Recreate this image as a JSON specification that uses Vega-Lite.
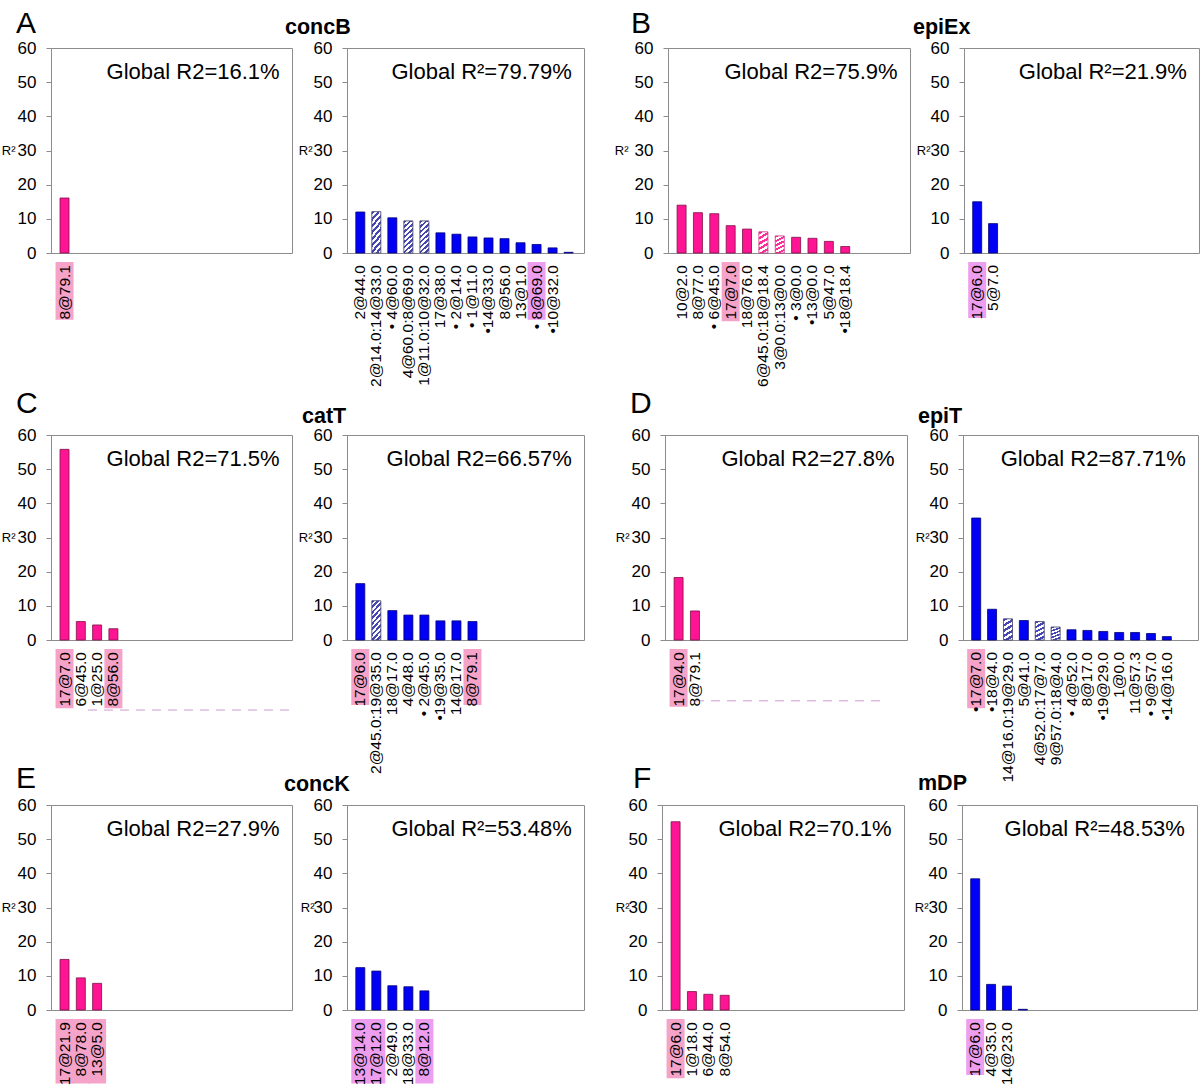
{
  "$schema": "https://vega.github.io/schema/vega-lite/v6.json",
  "background": "white",
  "padding": {"left": 0, "top": 8, "right": 0, "bottom": 0},
  "config": {
    "font": "Liberation Sans",
    "view": {"stroke": "#8c8c8c", "strokeWidth": 1},
    "scale": {"continuousPadding": 0},
    "axisY": {"tickSize": 5, "labelPadding": 10, "labelFontSize": 17, "labelColor": "#000000", "domainColor": "#8c8c8c", "tickColor": "#8c8c8c", "grid": false, "titleAngle": 0, "titleAlign": "right", "titleBaseline": "middle", "titleY": 102.5, "titleFontSize": 13, "titleFontWeight": "normal", "titleColor": "#000000"},
    "title": {"anchor": "start", "frame": "group", "baseline": "alphabetic", "color": "#000000", "font": "Liberation Sans"}
  },
  "datasets": {
    "bars": [
      {"p": "A1", "rank": 1, "label": "8@79.1", "r2": 16.1, "hl": "h1"},
      {"p": "A2", "rank": 1, "label": "2@44.0", "r2": 12.0, "hl": ""},
      {"p": "A2", "rank": 2, "label": "2@14.0:14@33.0", "r2": 12.1, "hl": ""},
      {"p": "A2", "rank": 3, "label": "• 4@60.0", "r2": 10.3, "hl": ""},
      {"p": "A2", "rank": 4, "label": "4@60.0:8@69.0", "r2": 9.4, "hl": ""},
      {"p": "A2", "rank": 5, "label": "1@11.0:10@32.0", "r2": 9.4, "hl": ""},
      {"p": "A2", "rank": 6, "label": "17@38.0", "r2": 5.9, "hl": ""},
      {"p": "A2", "rank": 7, "label": "• 2@14.0", "r2": 5.5, "hl": ""},
      {"p": "A2", "rank": 8, "label": "• 1@11.0", "r2": 4.7, "hl": ""},
      {"p": "A2", "rank": 9, "label": "•14@33.0", "r2": 4.4, "hl": ""},
      {"p": "A2", "rank": 10, "label": "8@56.0", "r2": 4.2, "hl": ""},
      {"p": "A2", "rank": 11, "label": "13@1.0", "r2": 3.0, "hl": ""},
      {"p": "A2", "rank": 12, "label": "• 8@69.0", "r2": 2.5, "hl": "h2"},
      {"p": "A2", "rank": 13, "label": "•10@32.0", "r2": 1.5, "hl": ""},
      {"p": "A2", "rank": 14, "label": "", "r2": 0.2, "hl": ""},
      {"p": "B1", "rank": 1, "label": "10@2.0", "r2": 14.0, "hl": ""},
      {"p": "B1", "rank": 2, "label": "8@77.0", "r2": 11.8, "hl": ""},
      {"p": "B1", "rank": 3, "label": "• 6@45.0", "r2": 11.5, "hl": ""},
      {"p": "B1", "rank": 4, "label": "17@7.0", "r2": 8.0, "hl": "h1"},
      {"p": "B1", "rank": 5, "label": "18@76.0", "r2": 7.0, "hl": ""},
      {"p": "B1", "rank": 6, "label": "6@45.0:18@18.4", "r2": 6.2, "hl": ""},
      {"p": "B1", "rank": 7, "label": "3@0.0:13@0.0", "r2": 5.0, "hl": ""},
      {"p": "B1", "rank": 8, "label": "• 3@0.0", "r2": 4.6, "hl": ""},
      {"p": "B1", "rank": 9, "label": "•13@0.0", "r2": 4.3, "hl": ""},
      {"p": "B1", "rank": 10, "label": "5@47.0", "r2": 3.4, "hl": ""},
      {"p": "B1", "rank": 11, "label": "•18@18.4", "r2": 1.9, "hl": ""},
      {"p": "B2", "rank": 1, "label": "17@6.0", "r2": 15.0, "hl": "h2"},
      {"p": "B2", "rank": 2, "label": "5@7.0", "r2": 8.6, "hl": ""},
      {"p": "C1", "rank": 1, "label": "17@7.0", "r2": 55.8, "hl": "h1"},
      {"p": "C1", "rank": 2, "label": "6@45.0", "r2": 5.4, "hl": ""},
      {"p": "C1", "rank": 3, "label": "1@25.0", "r2": 4.4, "hl": ""},
      {"p": "C1", "rank": 4, "label": "8@56.0", "r2": 3.3, "hl": "h1"},
      {"p": "C2", "rank": 1, "label": "17@6.0", "r2": 16.5, "hl": "h1"},
      {"p": "C2", "rank": 2, "label": "2@45.0:19@35.0", "r2": 11.5, "hl": ""},
      {"p": "C2", "rank": 3, "label": "18@17.0", "r2": 8.6, "hl": ""},
      {"p": "C2", "rank": 4, "label": "4@48.0", "r2": 7.3, "hl": ""},
      {"p": "C2", "rank": 5, "label": "• 2@45.0", "r2": 7.3, "hl": ""},
      {"p": "C2", "rank": 6, "label": "•19@35.0", "r2": 5.6, "hl": ""},
      {"p": "C2", "rank": 7, "label": "14@17.0", "r2": 5.6, "hl": ""},
      {"p": "C2", "rank": 8, "label": "8@79.1", "r2": 5.4, "hl": "h1"},
      {"p": "D1", "rank": 1, "label": "17@4.0", "r2": 18.3, "hl": "h1"},
      {"p": "D1", "rank": 2, "label": "8@79.1", "r2": 8.5, "hl": ""},
      {"p": "D2", "rank": 1, "label": "•17@7.0", "r2": 35.7, "hl": "h1"},
      {"p": "D2", "rank": 2, "label": "•18@4.0", "r2": 9.0, "hl": ""},
      {"p": "D2", "rank": 3, "label": "14@16.0:19@29.0", "r2": 6.2, "hl": ""},
      {"p": "D2", "rank": 4, "label": "5@41.0", "r2": 5.7, "hl": ""},
      {"p": "D2", "rank": 5, "label": "4@52.0:17@7.0", "r2": 5.4, "hl": ""},
      {"p": "D2", "rank": 6, "label": "9@57.0:18@4.0", "r2": 3.8, "hl": ""},
      {"p": "D2", "rank": 7, "label": "• 4@52.0", "r2": 3.0, "hl": ""},
      {"p": "D2", "rank": 8, "label": "8@17.0", "r2": 2.8, "hl": ""},
      {"p": "D2", "rank": 9, "label": "•19@29.0", "r2": 2.5, "hl": ""},
      {"p": "D2", "rank": 10, "label": "1@0.0", "r2": 2.2, "hl": ""},
      {"p": "D2", "rank": 11, "label": "11@57.3", "r2": 2.2, "hl": ""},
      {"p": "D2", "rank": 12, "label": "• 9@57.0", "r2": 1.9, "hl": ""},
      {"p": "D2", "rank": 13, "label": "•14@16.0", "r2": 1.0, "hl": ""},
      {"p": "E1", "rank": 1, "label": "17@21.9", "r2": 14.8, "hl": "h1"},
      {"p": "E1", "rank": 2, "label": "8@78.0", "r2": 9.4, "hl": "h1"},
      {"p": "E1", "rank": 3, "label": "13@5.0", "r2": 7.8, "hl": "h1"},
      {"p": "E2", "rank": 1, "label": "13@14.0", "r2": 12.4, "hl": "h2"},
      {"p": "E2", "rank": 2, "label": "17@12.0", "r2": 11.4, "hl": "h2"},
      {"p": "E2", "rank": 3, "label": "2@49.0", "r2": 7.1, "hl": ""},
      {"p": "E2", "rank": 4, "label": "18@33.0", "r2": 6.8, "hl": ""},
      {"p": "E2", "rank": 5, "label": "8@12.0", "r2": 5.6, "hl": "h2"},
      {"p": "F1", "rank": 1, "label": "17@6.0", "r2": 55.1, "hl": "h1"},
      {"p": "F1", "rank": 2, "label": "1@18.0", "r2": 5.4, "hl": ""},
      {"p": "F1", "rank": 3, "label": "6@44.0", "r2": 4.6, "hl": ""},
      {"p": "F1", "rank": 4, "label": "8@54.0", "r2": 4.3, "hl": ""},
      {"p": "F2", "rank": 1, "label": "17@6.0", "r2": 38.4, "hl": "h2"},
      {"p": "F2", "rank": 2, "label": "4@35.0", "r2": 7.5, "hl": ""},
      {"p": "F2", "rank": 3, "label": "14@23.0", "r2": 7.0, "hl": ""},
      {"p": "F2", "rank": 4, "label": "", "r2": 0.2, "hl": ""}
    ],
    "glob": [
      {"p": "A1", "text": "Global R2=16.1%"},
      {"p": "A2", "text": "Global R²=79.79%"},
      {"p": "B1", "text": "Global R2=75.9%"},
      {"p": "B2", "text": "Global R²=21.9%"},
      {"p": "C1", "text": "Global R2=71.5%"},
      {"p": "C2", "text": "Global R2=66.57%"},
      {"p": "D1", "text": "Global R2=27.8%"},
      {"p": "D2", "text": "Global R2=87.71%"},
      {"p": "E1", "text": "Global R2=27.9%"},
      {"p": "E2", "text": "Global R²=53.48%"},
      {"p": "F1", "text": "Global R2=70.1%"},
      {"p": "F2", "text": "Global R²=48.53%"}
    ]
  },
  "data": {"name": "bars"},
  "spacing": 0,
  "vconcat": [
    {
      "spacing": 28,
      "hconcat": [
        {
          "bounds": "flush", "spacing": 55,
          "hconcat": [
            {
              "width": 241, "height": 205,
              "title": {"text": "A", "dx": -35, "offset": 0, "fontSize": 30, "fontWeight": "normal"},
              "transform": [{"filter": "datum.p === 'A1'"}],
              "layer": [
                {"transform": [{"filter": "datum.hl !== ''"}], "mark": {"type": "bar", "orient": "vertical", "width": 18},
                 "encoding": {"x": {"field": "rank", "type": "quantitative", "scale": {"domain": [0.17, 14.96], "nice": false, "zero": false}, "axis": null},
                   "y": {"datum": -2.6, "scale": {"domain": [0, 60], "nice": false}, "axis": {"values": [0, 10, 20, 30, 40, 50, 60], "title": "R²", "titleX": -36}},
                   "y2": {"datum": -19.5},
                   "color": {"field": "hl", "type": "nominal", "scale": {"domain": ["h1", "h2"], "range": ["#F5A3C8", "#EE9EEE"]}, "legend": null}}},
                {"transform": [{"filter": "indexof(datum.label, ':') < 0"}], "mark": {"type": "bar", "orient": "vertical", "width": 9, "fill": "#FF1493", "stroke": "#7d1046", "strokeWidth": 0.8},
                 "encoding": {"x": {"field": "rank", "type": "quantitative", "scale": {"domain": [0.17, 14.96], "nice": false, "zero": false}},
                   "y": {"field": "r2", "type": "quantitative", "scale": {"domain": [0, 60], "nice": false}, "axis": {"values": [0, 10, 20, 30, 40, 50, 60], "title": "R²", "titleX": -36}}}},
                {"mark": {"type": "text", "angle": 270, "align": "right", "baseline": "middle", "dx": -12, "fontSize": 15.5, "color": "#000000"},
                 "encoding": {"x": {"field": "rank", "type": "quantitative", "scale": {"domain": [0.17, 14.96], "nice": false, "zero": false}},
                   "y": {"datum": 0, "scale": {"domain": [0, 60], "nice": false}, "axis": {"values": [0, 10, 20, 30, 40, 50, 60], "title": "R²", "titleX": -36}},
                   "text": {"field": "label"}}},
                {"data": {"name": "glob"}, "transform": [{"filter": "datum.p === 'A1'"}], "mark": {"type": "text", "align": "right", "baseline": "alphabetic", "fontSize": 22, "color": "#000000"},
                 "encoding": {"x": {"datum": 14.2, "scale": {"domain": [0.17, 14.96], "nice": false, "zero": false}},
                   "y": {"datum": 51, "scale": {"domain": [0, 60], "nice": false}, "axis": {"values": [0, 10, 20, 30, 40, 50, 60], "title": "R²", "titleX": -36}},
                   "text": {"field": "text"}}}
              ]
            },
            {
              "width": 237, "height": 205,
              "title": {"text": "concB", "dx": -62, "offset": 1, "fontSize": 21.5, "fontWeight": "bold"},
              "transform": [{"filter": "datum.p === 'A2'"}],
              "layer": [
                {"transform": [{"filter": "datum.hl !== ''"}], "mark": {"type": "bar", "orient": "vertical", "width": 18},
                 "encoding": {"x": {"field": "rank", "type": "quantitative", "scale": {"domain": [0.17, 14.96], "nice": false, "zero": false}, "axis": null},
                   "y": {"datum": -2.6, "scale": {"domain": [0, 60], "nice": false}, "axis": {"values": [0, 10, 20, 30, 40, 50, 60], "title": "R²", "titleX": -35}},
                   "y2": {"datum": -19.5},
                   "color": {"field": "hl", "type": "nominal", "scale": {"domain": ["h1", "h2"], "range": ["#F5A3C8", "#EE9EEE"]}, "legend": null}}},
                {"transform": [{"filter": "indexof(datum.label, ':') < 0"}], "mark": {"type": "bar", "orient": "vertical", "width": 9, "fill": "#0000F5", "stroke": "#00007a", "strokeWidth": 0.8},
                 "encoding": {"x": {"field": "rank", "type": "quantitative", "scale": {"domain": [0.17, 14.96], "nice": false, "zero": false}},
                   "y": {"field": "r2", "type": "quantitative", "scale": {"domain": [0, 60], "nice": false}, "axis": {"values": [0, 10, 20, 30, 40, 50, 60], "title": "R²", "titleX": -35}}}},
                {"transform": [{"filter": "indexof(datum.label, ':') >= 0"}], "mark": {"type": "bar", "orient": "vertical", "width": 9, "stroke": "#3a3a66", "strokeWidth": 0.8, "fill": {"gradient": "linear", "x1": 0, "y1": 0, "x2": 0.3, "y2": 1.18, "stops": [
                  {"offset": 0, "color": "#4646b4"}, {"offset": 0.0625, "color": "#4646b4"}, {"offset": 0.0625, "color": "#ffffff"}, {"offset": 0.125, "color": "#ffffff"},
                  {"offset": 0.125, "color": "#4646b4"}, {"offset": 0.1875, "color": "#4646b4"}, {"offset": 0.1875, "color": "#ffffff"}, {"offset": 0.25, "color": "#ffffff"},
                  {"offset": 0.25, "color": "#4646b4"}, {"offset": 0.3125, "color": "#4646b4"}, {"offset": 0.3125, "color": "#ffffff"}, {"offset": 0.375, "color": "#ffffff"},
                  {"offset": 0.375, "color": "#4646b4"}, {"offset": 0.4375, "color": "#4646b4"}, {"offset": 0.4375, "color": "#ffffff"}, {"offset": 0.5, "color": "#ffffff"},
                  {"offset": 0.5, "color": "#4646b4"}, {"offset": 0.5625, "color": "#4646b4"}, {"offset": 0.5625, "color": "#ffffff"}, {"offset": 0.625, "color": "#ffffff"},
                  {"offset": 0.625, "color": "#4646b4"}, {"offset": 0.6875, "color": "#4646b4"}, {"offset": 0.6875, "color": "#ffffff"}, {"offset": 0.75, "color": "#ffffff"},
                  {"offset": 0.75, "color": "#4646b4"}, {"offset": 0.8125, "color": "#4646b4"}, {"offset": 0.8125, "color": "#ffffff"}, {"offset": 0.875, "color": "#ffffff"},
                  {"offset": 0.875, "color": "#4646b4"}, {"offset": 0.9375, "color": "#4646b4"}, {"offset": 0.9375, "color": "#ffffff"}, {"offset": 1, "color": "#ffffff"}]}},
                 "encoding": {"x": {"field": "rank", "type": "quantitative", "scale": {"domain": [0.17, 14.96], "nice": false, "zero": false}},
                   "y": {"field": "r2", "type": "quantitative", "scale": {"domain": [0, 60], "nice": false}, "axis": {"values": [0, 10, 20, 30, 40, 50, 60], "title": "R²", "titleX": -35}}}},
                {"mark": {"type": "text", "angle": 270, "align": "right", "baseline": "middle", "dx": -12, "fontSize": 15.5, "color": "#000000"},
                 "encoding": {"x": {"field": "rank", "type": "quantitative", "scale": {"domain": [0.17, 14.96], "nice": false, "zero": false}},
                   "y": {"datum": 0, "scale": {"domain": [0, 60], "nice": false}, "axis": {"values": [0, 10, 20, 30, 40, 50, 60], "title": "R²", "titleX": -35}},
                   "text": {"field": "label"}}},
                {"data": {"name": "glob"}, "transform": [{"filter": "datum.p === 'A2'"}], "mark": {"type": "text", "align": "right", "baseline": "alphabetic", "fontSize": 22, "color": "#000000"},
                 "encoding": {"x": {"datum": 14.2, "scale": {"domain": [0.17, 14.96], "nice": false, "zero": false}},
                   "y": {"datum": 51, "scale": {"domain": [0, 60], "nice": false}, "axis": {"values": [0, 10, 20, 30, 40, 50, 60], "title": "R²", "titleX": -35}},
                   "text": {"field": "text"}}}
              ]
            }
          ]
        },
        {
          "bounds": "flush", "spacing": 54,
          "hconcat": [
            {
              "width": 242, "height": 205,
              "title": {"text": "B", "dx": -37, "offset": 0, "fontSize": 30, "fontWeight": "normal"},
              "transform": [{"filter": "datum.p === 'B1'"}],
              "layer": [
                {"transform": [{"filter": "datum.hl !== ''"}], "mark": {"type": "bar", "orient": "vertical", "width": 18},
                 "encoding": {"x": {"field": "rank", "type": "quantitative", "scale": {"domain": [0.17, 14.96], "nice": false, "zero": false}, "axis": null},
                   "y": {"datum": -2.6, "scale": {"domain": [0, 60], "nice": false}, "axis": {"values": [0, 10, 20, 30, 40, 50, 60], "title": "R²", "titleX": -40}},
                   "y2": {"datum": -20},
                   "color": {"field": "hl", "type": "nominal", "scale": {"domain": ["h1", "h2"], "range": ["#F5A3C8", "#EE9EEE"]}, "legend": null}}},
                {"transform": [{"filter": "indexof(datum.label, ':') < 0"}], "mark": {"type": "bar", "orient": "vertical", "width": 9, "fill": "#FF1493", "stroke": "#7d1046", "strokeWidth": 0.8},
                 "encoding": {"x": {"field": "rank", "type": "quantitative", "scale": {"domain": [0.17, 14.96], "nice": false, "zero": false}},
                   "y": {"field": "r2", "type": "quantitative", "scale": {"domain": [0, 60], "nice": false}, "axis": {"values": [0, 10, 20, 30, 40, 50, 60], "title": "R²", "titleX": -40}}}},
                {"transform": [{"filter": "indexof(datum.label, ':') >= 0"}], "mark": {"type": "bar", "orient": "vertical", "width": 9, "stroke": "#d02a84", "strokeWidth": 0.8, "fill": {"gradient": "linear", "x1": 0, "y1": 0, "x2": 0.3, "y2": 1.18, "stops": [
                  {"offset": 0, "color": "#ff2e9a"}, {"offset": 0.1, "color": "#ff2e9a"}, {"offset": 0.1, "color": "#ffffff"}, {"offset": 0.2, "color": "#ffffff"},
                  {"offset": 0.2, "color": "#ff2e9a"}, {"offset": 0.3, "color": "#ff2e9a"}, {"offset": 0.3, "color": "#ffffff"}, {"offset": 0.4, "color": "#ffffff"},
                  {"offset": 0.4, "color": "#ff2e9a"}, {"offset": 0.5, "color": "#ff2e9a"}, {"offset": 0.5, "color": "#ffffff"}, {"offset": 0.6, "color": "#ffffff"},
                  {"offset": 0.6, "color": "#ff2e9a"}, {"offset": 0.7, "color": "#ff2e9a"}, {"offset": 0.7, "color": "#ffffff"}, {"offset": 0.8, "color": "#ffffff"},
                  {"offset": 0.8, "color": "#ff2e9a"}, {"offset": 0.9, "color": "#ff2e9a"}, {"offset": 0.9, "color": "#ffffff"}, {"offset": 1, "color": "#ffffff"}]}},
                 "encoding": {"x": {"field": "rank", "type": "quantitative", "scale": {"domain": [0.17, 14.96], "nice": false, "zero": false}},
                   "y": {"field": "r2", "type": "quantitative", "scale": {"domain": [0, 60], "nice": false}, "axis": {"values": [0, 10, 20, 30, 40, 50, 60], "title": "R²", "titleX": -40}}}},
                {"mark": {"type": "text", "angle": 270, "align": "right", "baseline": "middle", "dx": -12, "fontSize": 15.5, "color": "#000000"},
                 "encoding": {"x": {"field": "rank", "type": "quantitative", "scale": {"domain": [0.17, 14.96], "nice": false, "zero": false}},
                   "y": {"datum": 0, "scale": {"domain": [0, 60], "nice": false}, "axis": {"values": [0, 10, 20, 30, 40, 50, 60], "title": "R²", "titleX": -40}},
                   "text": {"field": "label"}}},
                {"data": {"name": "glob"}, "transform": [{"filter": "datum.p === 'B1'"}], "mark": {"type": "text", "align": "right", "baseline": "alphabetic", "fontSize": 22, "color": "#000000"},
                 "encoding": {"x": {"datum": 14.2, "scale": {"domain": [0.17, 14.96], "nice": false, "zero": false}},
                   "y": {"datum": 51, "scale": {"domain": [0, 60], "nice": false}, "axis": {"values": [0, 10, 20, 30, 40, 50, 60], "title": "R²", "titleX": -40}},
                   "text": {"field": "text"}}}
              ]
            },
            {
              "width": 235, "height": 205,
              "title": {"text": "epiEx", "dx": -51, "offset": 0, "dy": -1, "fontSize": 21.5, "fontWeight": "bold"},
              "transform": [{"filter": "datum.p === 'B2'"}],
              "layer": [
                {"transform": [{"filter": "datum.hl !== ''"}], "mark": {"type": "bar", "orient": "vertical", "width": 18},
                 "encoding": {"x": {"field": "rank", "type": "quantitative", "scale": {"domain": [0.17, 14.96], "nice": false, "zero": false}, "axis": null},
                   "y": {"datum": -2.6, "scale": {"domain": [0, 60], "nice": false}, "axis": {"values": [0, 10, 20, 30, 40, 50, 60], "title": "R²", "titleX": -34}},
                   "y2": {"datum": -19},
                   "color": {"field": "hl", "type": "nominal", "scale": {"domain": ["h1", "h2"], "range": ["#F5A3C8", "#EE9EEE"]}, "legend": null}}},
                {"transform": [{"filter": "indexof(datum.label, ':') < 0"}], "mark": {"type": "bar", "orient": "vertical", "width": 9, "fill": "#0000F5", "stroke": "#00007a", "strokeWidth": 0.8},
                 "encoding": {"x": {"field": "rank", "type": "quantitative", "scale": {"domain": [0.17, 14.96], "nice": false, "zero": false}},
                   "y": {"field": "r2", "type": "quantitative", "scale": {"domain": [0, 60], "nice": false}, "axis": {"values": [0, 10, 20, 30, 40, 50, 60], "title": "R²", "titleX": -34}}}},
                {"mark": {"type": "text", "angle": 270, "align": "right", "baseline": "middle", "dx": -12, "fontSize": 15.5, "color": "#000000"},
                 "encoding": {"x": {"field": "rank", "type": "quantitative", "scale": {"domain": [0.17, 14.96], "nice": false, "zero": false}},
                   "y": {"datum": 0, "scale": {"domain": [0, 60], "nice": false}, "axis": {"values": [0, 10, 20, 30, 40, 50, 60], "title": "R²", "titleX": -34}},
                   "text": {"field": "label"}}},
                {"data": {"name": "glob"}, "transform": [{"filter": "datum.p === 'B2'"}], "mark": {"type": "text", "align": "right", "baseline": "alphabetic", "fontSize": 22, "color": "#000000"},
                 "encoding": {"x": {"datum": 14.2, "scale": {"domain": [0.17, 14.96], "nice": false, "zero": false}},
                   "y": {"datum": 51, "scale": {"domain": [0, 60], "nice": false}, "axis": {"values": [0, 10, 20, 30, 40, 50, 60], "title": "R²", "titleX": -34}},
                   "text": {"field": "text"}}}
              ]
            }
          ]
        }
      ]
    },
    {
      "spacing": -21,
      "vconcat": [
        {
          "spacing": 29,
          "hconcat": [
            {
              "bounds": "flush", "spacing": 55,
              "hconcat": [
                {
                  "width": 241, "height": 205,
                  "title": {"text": "C", "dx": -35, "offset": 7, "fontSize": 30, "fontWeight": "normal"},
                  "transform": [{"filter": "datum.p === 'C1'"}],
                  "layer": [
                    {"transform": [{"filter": "datum.hl !== ''"}], "mark": {"type": "bar", "orient": "vertical", "width": 18},
                     "encoding": {"x": {"field": "rank", "type": "quantitative", "scale": {"domain": [0.17, 14.96], "nice": false, "zero": false}, "axis": null},
                       "y": {"datum": -2.6, "scale": {"domain": [0, 60], "nice": false}, "axis": {"values": [0, 10, 20, 30, 40, 50, 60], "title": "R²", "titleX": -36}},
                       "y2": {"datum": -20},
                       "color": {"field": "hl", "type": "nominal", "scale": {"domain": ["h1", "h2"], "range": ["#F5A3C8", "#EE9EEE"]}, "legend": null}}},
                    {"data": {"values": [{"kind": "separator"}]}, "mark": {"type": "rule", "strokeDash": [9, 7], "color": "#D09AD0", "strokeWidth": 1},
                     "encoding": {"x": {"datum": 2.44, "scale": {"domain": [0.17, 14.96], "nice": false, "zero": false}}, "x2": {"datum": 15.2},
                       "y": {"datum": -20.5, "scale": {"domain": [0, 60], "nice": false}, "axis": {"values": [0, 10, 20, 30, 40, 50, 60], "title": "R²", "titleX": -36}}}},
                    {"transform": [{"filter": "indexof(datum.label, ':') < 0"}], "mark": {"type": "bar", "orient": "vertical", "width": 9, "fill": "#FF1493", "stroke": "#7d1046", "strokeWidth": 0.8},
                     "encoding": {"x": {"field": "rank", "type": "quantitative", "scale": {"domain": [0.17, 14.96], "nice": false, "zero": false}},
                       "y": {"field": "r2", "type": "quantitative", "scale": {"domain": [0, 60], "nice": false}, "axis": {"values": [0, 10, 20, 30, 40, 50, 60], "title": "R²", "titleX": -36}}}},
                    {"mark": {"type": "text", "angle": 270, "align": "right", "baseline": "middle", "dx": -12, "fontSize": 15.5, "color": "#000000"},
                     "encoding": {"x": {"field": "rank", "type": "quantitative", "scale": {"domain": [0.17, 14.96], "nice": false, "zero": false}},
                       "y": {"datum": 0, "scale": {"domain": [0, 60], "nice": false}, "axis": {"values": [0, 10, 20, 30, 40, 50, 60], "title": "R²", "titleX": -36}},
                       "text": {"field": "label"}}},
                    {"data": {"name": "glob"}, "transform": [{"filter": "datum.p === 'C1'"}], "mark": {"type": "text", "align": "right", "baseline": "alphabetic", "fontSize": 22, "color": "#000000"},
                     "encoding": {"x": {"datum": 14.2, "scale": {"domain": [0.17, 14.96], "nice": false, "zero": false}},
                       "y": {"datum": 51, "scale": {"domain": [0, 60], "nice": false}, "axis": {"values": [0, 10, 20, 30, 40, 50, 60], "title": "R²", "titleX": -36}},
                       "text": {"field": "text"}}}
                  ]
                },
                {
                  "width": 237, "height": 205,
                  "title": {"text": "catT", "dx": -45, "offset": 0, "dy": 1, "fontSize": 21.5, "fontWeight": "bold"},
                  "transform": [{"filter": "datum.p === 'C2'"}],
                  "layer": [
                    {"transform": [{"filter": "datum.hl !== ''"}], "mark": {"type": "bar", "orient": "vertical", "width": 18},
                     "encoding": {"x": {"field": "rank", "type": "quantitative", "scale": {"domain": [0.17, 14.96], "nice": false, "zero": false}, "axis": null},
                       "y": {"datum": -2.6, "scale": {"domain": [0, 60], "nice": false}, "axis": {"values": [0, 10, 20, 30, 40, 50, 60], "title": "R²", "titleX": -35}},
                       "y2": {"datum": -19},
                       "color": {"field": "hl", "type": "nominal", "scale": {"domain": ["h1", "h2"], "range": ["#F5A3C8", "#EE9EEE"]}, "legend": null}}},
                    {"transform": [{"filter": "indexof(datum.label, ':') < 0"}], "mark": {"type": "bar", "orient": "vertical", "width": 9, "fill": "#0000F5", "stroke": "#00007a", "strokeWidth": 0.8},
                     "encoding": {"x": {"field": "rank", "type": "quantitative", "scale": {"domain": [0.17, 14.96], "nice": false, "zero": false}},
                       "y": {"field": "r2", "type": "quantitative", "scale": {"domain": [0, 60], "nice": false}, "axis": {"values": [0, 10, 20, 30, 40, 50, 60], "title": "R²", "titleX": -35}}}},
                    {"transform": [{"filter": "indexof(datum.label, ':') >= 0"}], "mark": {"type": "bar", "orient": "vertical", "width": 9, "stroke": "#3a3a66", "strokeWidth": 0.8, "fill": {"gradient": "linear", "x1": 0, "y1": 0, "x2": 0.3, "y2": 1.18, "stops": [
                      {"offset": 0, "color": "#4646b4"}, {"offset": 0.0556, "color": "#4646b4"}, {"offset": 0.0556, "color": "#ffffff"}, {"offset": 0.1111, "color": "#ffffff"},
                      {"offset": 0.1111, "color": "#4646b4"}, {"offset": 0.1667, "color": "#4646b4"}, {"offset": 0.1667, "color": "#ffffff"}, {"offset": 0.2222, "color": "#ffffff"},
                      {"offset": 0.2222, "color": "#4646b4"}, {"offset": 0.2778, "color": "#4646b4"}, {"offset": 0.2778, "color": "#ffffff"}, {"offset": 0.3333, "color": "#ffffff"},
                      {"offset": 0.3333, "color": "#4646b4"}, {"offset": 0.3889, "color": "#4646b4"}, {"offset": 0.3889, "color": "#ffffff"}, {"offset": 0.4444, "color": "#ffffff"},
                      {"offset": 0.4444, "color": "#4646b4"}, {"offset": 0.5, "color": "#4646b4"}, {"offset": 0.5, "color": "#ffffff"}, {"offset": 0.5556, "color": "#ffffff"},
                      {"offset": 0.5556, "color": "#4646b4"}, {"offset": 0.6111, "color": "#4646b4"}, {"offset": 0.6111, "color": "#ffffff"}, {"offset": 0.6667, "color": "#ffffff"},
                      {"offset": 0.6667, "color": "#4646b4"}, {"offset": 0.7222, "color": "#4646b4"}, {"offset": 0.7222, "color": "#ffffff"}, {"offset": 0.7778, "color": "#ffffff"},
                      {"offset": 0.7778, "color": "#4646b4"}, {"offset": 0.8333, "color": "#4646b4"}, {"offset": 0.8333, "color": "#ffffff"}, {"offset": 0.8889, "color": "#ffffff"},
                      {"offset": 0.8889, "color": "#4646b4"}, {"offset": 0.9444, "color": "#4646b4"}, {"offset": 0.9444, "color": "#ffffff"}, {"offset": 1, "color": "#ffffff"}]}},
                     "encoding": {"x": {"field": "rank", "type": "quantitative", "scale": {"domain": [0.17, 14.96], "nice": false, "zero": false}},
                       "y": {"field": "r2", "type": "quantitative", "scale": {"domain": [0, 60], "nice": false}, "axis": {"values": [0, 10, 20, 30, 40, 50, 60], "title": "R²", "titleX": -35}}}},
                    {"mark": {"type": "text", "angle": 270, "align": "right", "baseline": "middle", "dx": -12, "fontSize": 15.5, "color": "#000000"},
                     "encoding": {"x": {"field": "rank", "type": "quantitative", "scale": {"domain": [0.17, 14.96], "nice": false, "zero": false}},
                       "y": {"datum": 0, "scale": {"domain": [0, 60], "nice": false}, "axis": {"values": [0, 10, 20, 30, 40, 50, 60], "title": "R²", "titleX": -35}},
                       "text": {"field": "label"}}},
                    {"data": {"name": "glob"}, "transform": [{"filter": "datum.p === 'C2'"}], "mark": {"type": "text", "align": "right", "baseline": "alphabetic", "fontSize": 22, "color": "#000000"},
                     "encoding": {"x": {"datum": 14.2, "scale": {"domain": [0.17, 14.96], "nice": false, "zero": false}},
                       "y": {"datum": 51, "scale": {"domain": [0, 60], "nice": false}, "axis": {"values": [0, 10, 20, 30, 40, 50, 60], "title": "R²", "titleX": -35}},
                       "text": {"field": "text"}}}
                  ]
                }
              ]
            },
            {
              "bounds": "flush", "spacing": 56,
              "hconcat": [
                {
                  "width": 242, "height": 205,
                  "title": {"text": "D", "dx": -35, "offset": 7, "fontSize": 30, "fontWeight": "normal"},
                  "transform": [{"filter": "datum.p === 'D1'"}],
                  "layer": [
                    {"transform": [{"filter": "datum.hl !== ''"}], "mark": {"type": "bar", "orient": "vertical", "width": 18},
                     "encoding": {"x": {"field": "rank", "type": "quantitative", "scale": {"domain": [0.17, 14.96], "nice": false, "zero": false}, "axis": null},
                       "y": {"datum": -2.6, "scale": {"domain": [0, 60], "nice": false}, "axis": {"values": [0, 10, 20, 30, 40, 50, 60], "title": "R²", "titleX": -36}},
                       "y2": {"datum": -19.5},
                       "color": {"field": "hl", "type": "nominal", "scale": {"domain": ["h1", "h2"], "range": ["#F5A3C8", "#EE9EEE"]}, "legend": null}}},
                    {"data": {"values": [{"kind": "separator"}]}, "mark": {"type": "rule", "strokeDash": [9, 7], "color": "#D09AD0", "strokeWidth": 1},
                     "encoding": {"x": {"datum": 2.0, "scale": {"domain": [0.17, 14.96], "nice": false, "zero": false}}, "x2": {"datum": 13.6},
                       "y": {"datum": -17.8, "scale": {"domain": [0, 60], "nice": false}, "axis": {"values": [0, 10, 20, 30, 40, 50, 60], "title": "R²", "titleX": -36}}}},
                    {"transform": [{"filter": "indexof(datum.label, ':') < 0"}], "mark": {"type": "bar", "orient": "vertical", "width": 9, "fill": "#FF1493", "stroke": "#7d1046", "strokeWidth": 0.8},
                     "encoding": {"x": {"field": "rank", "type": "quantitative", "scale": {"domain": [0.17, 14.96], "nice": false, "zero": false}},
                       "y": {"field": "r2", "type": "quantitative", "scale": {"domain": [0, 60], "nice": false}, "axis": {"values": [0, 10, 20, 30, 40, 50, 60], "title": "R²", "titleX": -36}}}},
                    {"mark": {"type": "text", "angle": 270, "align": "right", "baseline": "middle", "dx": -12, "fontSize": 15.5, "color": "#000000"},
                     "encoding": {"x": {"field": "rank", "type": "quantitative", "scale": {"domain": [0.17, 14.96], "nice": false, "zero": false}},
                       "y": {"datum": 0, "scale": {"domain": [0, 60], "nice": false}, "axis": {"values": [0, 10, 20, 30, 40, 50, 60], "title": "R²", "titleX": -36}},
                       "text": {"field": "label"}}},
                    {"data": {"name": "glob"}, "transform": [{"filter": "datum.p === 'D1'"}], "mark": {"type": "text", "align": "right", "baseline": "alphabetic", "fontSize": 22, "color": "#000000"},
                     "encoding": {"x": {"datum": 14.2, "scale": {"domain": [0.17, 14.96], "nice": false, "zero": false}},
                       "y": {"datum": 51, "scale": {"domain": [0, 60], "nice": false}, "axis": {"values": [0, 10, 20, 30, 40, 50, 60], "title": "R²", "titleX": -36}},
                       "text": {"field": "text"}}}
                  ]
                },
                {
                  "width": 235, "height": 205,
                  "title": {"text": "epiT", "dx": -45, "offset": 0, "dy": 1, "fontSize": 21.5, "fontWeight": "bold"},
                  "transform": [{"filter": "datum.p === 'D2'"}],
                  "layer": [
                    {"transform": [{"filter": "datum.hl !== ''"}], "mark": {"type": "bar", "orient": "vertical", "width": 18},
                     "encoding": {"x": {"field": "rank", "type": "quantitative", "scale": {"domain": [0.17, 14.96], "nice": false, "zero": false}, "axis": null},
                       "y": {"datum": -2.6, "scale": {"domain": [0, 60], "nice": false}, "axis": {"values": [0, 10, 20, 30, 40, 50, 60], "title": "R²", "titleX": -34}},
                       "y2": {"datum": -20},
                       "color": {"field": "hl", "type": "nominal", "scale": {"domain": ["h1", "h2"], "range": ["#F5A3C8", "#EE9EEE"]}, "legend": null}}},
                    {"transform": [{"filter": "indexof(datum.label, ':') < 0"}], "mark": {"type": "bar", "orient": "vertical", "width": 9, "fill": "#0000F5", "stroke": "#00007a", "strokeWidth": 0.8},
                     "encoding": {"x": {"field": "rank", "type": "quantitative", "scale": {"domain": [0.17, 14.96], "nice": false, "zero": false}},
                       "y": {"field": "r2", "type": "quantitative", "scale": {"domain": [0, 60], "nice": false}, "axis": {"values": [0, 10, 20, 30, 40, 50, 60], "title": "R²", "titleX": -34}}}},
                    {"transform": [{"filter": "indexof(datum.label, ':') >= 0"}], "mark": {"type": "bar", "orient": "vertical", "width": 9, "stroke": "#3a3a66", "strokeWidth": 0.8, "fill": {"gradient": "linear", "x1": 0, "y1": 0, "x2": 0.3, "y2": 1.18, "stops": [
                      {"offset": 0, "color": "#4646b4"}, {"offset": 0.1, "color": "#4646b4"}, {"offset": 0.1, "color": "#ffffff"}, {"offset": 0.2, "color": "#ffffff"},
                      {"offset": 0.2, "color": "#4646b4"}, {"offset": 0.3, "color": "#4646b4"}, {"offset": 0.3, "color": "#ffffff"}, {"offset": 0.4, "color": "#ffffff"},
                      {"offset": 0.4, "color": "#4646b4"}, {"offset": 0.5, "color": "#4646b4"}, {"offset": 0.5, "color": "#ffffff"}, {"offset": 0.6, "color": "#ffffff"},
                      {"offset": 0.6, "color": "#4646b4"}, {"offset": 0.7, "color": "#4646b4"}, {"offset": 0.7, "color": "#ffffff"}, {"offset": 0.8, "color": "#ffffff"},
                      {"offset": 0.8, "color": "#4646b4"}, {"offset": 0.9, "color": "#4646b4"}, {"offset": 0.9, "color": "#ffffff"}, {"offset": 1, "color": "#ffffff"}]}},
                     "encoding": {"x": {"field": "rank", "type": "quantitative", "scale": {"domain": [0.17, 14.96], "nice": false, "zero": false}},
                       "y": {"field": "r2", "type": "quantitative", "scale": {"domain": [0, 60], "nice": false}, "axis": {"values": [0, 10, 20, 30, 40, 50, 60], "title": "R²", "titleX": -34}}}},
                    {"mark": {"type": "text", "angle": 270, "align": "right", "baseline": "middle", "dx": -12, "fontSize": 15.5, "color": "#000000"},
                     "encoding": {"x": {"field": "rank", "type": "quantitative", "scale": {"domain": [0.17, 14.96], "nice": false, "zero": false}},
                       "y": {"datum": 0, "scale": {"domain": [0, 60], "nice": false}, "axis": {"values": [0, 10, 20, 30, 40, 50, 60], "title": "R²", "titleX": -34}},
                       "text": {"field": "label"}}},
                    {"data": {"name": "glob"}, "transform": [{"filter": "datum.p === 'D2'"}], "mark": {"type": "text", "align": "right", "baseline": "alphabetic", "fontSize": 22, "color": "#000000"},
                     "encoding": {"x": {"datum": 14.2, "scale": {"domain": [0.17, 14.96], "nice": false, "zero": false}},
                       "y": {"datum": 51, "scale": {"domain": [0, 60], "nice": false}, "axis": {"values": [0, 10, 20, 30, 40, 50, 60], "title": "R²", "titleX": -34}},
                       "text": {"field": "text"}}}
                  ]
                }
              ]
            }
          ]
        },
        {
          "spacing": 29,
          "hconcat": [
            {
              "bounds": "flush", "spacing": 55,
              "hconcat": [
                {
                  "width": 241, "height": 205,
                  "title": {"text": "E", "dx": -35, "offset": 0, "dy": -2, "fontSize": 30, "fontWeight": "normal"},
                  "transform": [{"filter": "datum.p === 'E1'"}],
                  "layer": [
                    {"transform": [{"filter": "datum.hl !== ''"}], "mark": {"type": "bar", "orient": "vertical", "width": 18},
                     "encoding": {"x": {"field": "rank", "type": "quantitative", "scale": {"domain": [0.17, 14.96], "nice": false, "zero": false}, "axis": null},
                       "y": {"datum": -2.6, "scale": {"domain": [0, 60], "nice": false}, "axis": {"values": [0, 10, 20, 30, 40, 50, 60], "title": "R²", "titleX": -36}},
                       "y2": {"datum": -21.5},
                       "color": {"field": "hl", "type": "nominal", "scale": {"domain": ["h1", "h2"], "range": ["#F5A3C8", "#EE9EEE"]}, "legend": null}}},
                    {"transform": [{"filter": "indexof(datum.label, ':') < 0"}], "mark": {"type": "bar", "orient": "vertical", "width": 9, "fill": "#FF1493", "stroke": "#7d1046", "strokeWidth": 0.8},
                     "encoding": {"x": {"field": "rank", "type": "quantitative", "scale": {"domain": [0.17, 14.96], "nice": false, "zero": false}},
                       "y": {"field": "r2", "type": "quantitative", "scale": {"domain": [0, 60], "nice": false}, "axis": {"values": [0, 10, 20, 30, 40, 50, 60], "title": "R²", "titleX": -36}}}},
                    {"mark": {"type": "text", "angle": 270, "align": "right", "baseline": "middle", "dx": -12, "fontSize": 15.5, "color": "#000000"},
                     "encoding": {"x": {"field": "rank", "type": "quantitative", "scale": {"domain": [0.17, 14.96], "nice": false, "zero": false}},
                       "y": {"datum": 0, "scale": {"domain": [0, 60], "nice": false}, "axis": {"values": [0, 10, 20, 30, 40, 50, 60], "title": "R²", "titleX": -36}},
                       "text": {"field": "label"}}},
                    {"data": {"name": "glob"}, "transform": [{"filter": "datum.p === 'E1'"}], "mark": {"type": "text", "align": "right", "baseline": "alphabetic", "fontSize": 22, "color": "#000000"},
                     "encoding": {"x": {"datum": 14.2, "scale": {"domain": [0.17, 14.96], "nice": false, "zero": false}},
                       "y": {"datum": 51, "scale": {"domain": [0, 60], "nice": false}, "axis": {"values": [0, 10, 20, 30, 40, 50, 60], "title": "R²", "titleX": -36}},
                       "text": {"field": "text"}}}
                  ]
                },
                {
                  "width": 237, "height": 205,
                  "title": {"text": "concK", "dx": -63, "offset": 0, "dy": -1, "fontSize": 21.5, "fontWeight": "bold"},
                  "transform": [{"filter": "datum.p === 'E2'"}],
                  "layer": [
                    {"transform": [{"filter": "datum.hl !== ''"}], "mark": {"type": "bar", "orient": "vertical", "width": 18},
                     "encoding": {"x": {"field": "rank", "type": "quantitative", "scale": {"domain": [0.17, 14.96], "nice": false, "zero": false}, "axis": null},
                       "y": {"datum": -2.6, "scale": {"domain": [0, 60], "nice": false}, "axis": {"values": [0, 10, 20, 30, 40, 50, 60], "title": "R²", "titleX": -33}},
                       "y2": {"datum": -21.5},
                       "color": {"field": "hl", "type": "nominal", "scale": {"domain": ["h1", "h2"], "range": ["#F5A3C8", "#EE9EEE"]}, "legend": null}}},
                    {"transform": [{"filter": "indexof(datum.label, ':') < 0"}], "mark": {"type": "bar", "orient": "vertical", "width": 9, "fill": "#0000F5", "stroke": "#00007a", "strokeWidth": 0.8},
                     "encoding": {"x": {"field": "rank", "type": "quantitative", "scale": {"domain": [0.17, 14.96], "nice": false, "zero": false}},
                       "y": {"field": "r2", "type": "quantitative", "scale": {"domain": [0, 60], "nice": false}, "axis": {"values": [0, 10, 20, 30, 40, 50, 60], "title": "R²", "titleX": -33}}}},
                    {"mark": {"type": "text", "angle": 270, "align": "right", "baseline": "middle", "dx": -12, "fontSize": 15.5, "color": "#000000"},
                     "encoding": {"x": {"field": "rank", "type": "quantitative", "scale": {"domain": [0.17, 14.96], "nice": false, "zero": false}},
                       "y": {"datum": 0, "scale": {"domain": [0, 60], "nice": false}, "axis": {"values": [0, 10, 20, 30, 40, 50, 60], "title": "R²", "titleX": -33}},
                       "text": {"field": "label"}}},
                    {"data": {"name": "glob"}, "transform": [{"filter": "datum.p === 'E2'"}], "mark": {"type": "text", "align": "right", "baseline": "alphabetic", "fontSize": 22, "color": "#000000"},
                     "encoding": {"x": {"datum": 14.2, "scale": {"domain": [0.17, 14.96], "nice": false, "zero": false}},
                       "y": {"datum": 51, "scale": {"domain": [0, 60], "nice": false}, "axis": {"values": [0, 10, 20, 30, 40, 50, 60], "title": "R²", "titleX": -33}},
                       "text": {"field": "text"}}}
                  ]
                }
              ]
            },
            {
              "bounds": "flush", "spacing": 58,
              "hconcat": [
                {
                  "width": 242, "height": 205,
                  "title": {"text": "F", "dx": -29, "offset": 0, "dy": -2, "fontSize": 30, "fontWeight": "normal"},
                  "transform": [{"filter": "datum.p === 'F1'"}],
                  "layer": [
                    {"transform": [{"filter": "datum.hl !== ''"}], "mark": {"type": "bar", "orient": "vertical", "width": 18},
                     "encoding": {"x": {"field": "rank", "type": "quantitative", "scale": {"domain": [0.17, 14.96], "nice": false, "zero": false}, "axis": null},
                       "y": {"datum": -2.6, "scale": {"domain": [0, 60], "nice": false}, "axis": {"values": [0, 10, 20, 30, 40, 50, 60], "title": "R²", "titleX": -33}},
                       "y2": {"datum": -20},
                       "color": {"field": "hl", "type": "nominal", "scale": {"domain": ["h1", "h2"], "range": ["#F5A3C8", "#EE9EEE"]}, "legend": null}}},
                    {"transform": [{"filter": "indexof(datum.label, ':') < 0"}], "mark": {"type": "bar", "orient": "vertical", "width": 9, "fill": "#FF1493", "stroke": "#7d1046", "strokeWidth": 0.8},
                     "encoding": {"x": {"field": "rank", "type": "quantitative", "scale": {"domain": [0.17, 14.96], "nice": false, "zero": false}},
                       "y": {"field": "r2", "type": "quantitative", "scale": {"domain": [0, 60], "nice": false}, "axis": {"values": [0, 10, 20, 30, 40, 50, 60], "title": "R²", "titleX": -33}}}},
                    {"mark": {"type": "text", "angle": 270, "align": "right", "baseline": "middle", "dx": -12, "fontSize": 15.5, "color": "#000000"},
                     "encoding": {"x": {"field": "rank", "type": "quantitative", "scale": {"domain": [0.17, 14.96], "nice": false, "zero": false}},
                       "y": {"datum": 0, "scale": {"domain": [0, 60], "nice": false}, "axis": {"values": [0, 10, 20, 30, 40, 50, 60], "title": "R²", "titleX": -33}},
                       "text": {"field": "label"}}},
                    {"data": {"name": "glob"}, "transform": [{"filter": "datum.p === 'F1'"}], "mark": {"type": "text", "align": "right", "baseline": "alphabetic", "fontSize": 22, "color": "#000000"},
                     "encoding": {"x": {"datum": 14.2, "scale": {"domain": [0.17, 14.96], "nice": false, "zero": false}},
                       "y": {"datum": 51, "scale": {"domain": [0, 60], "nice": false}, "axis": {"values": [0, 10, 20, 30, 40, 50, 60], "title": "R²", "titleX": -33}},
                       "text": {"field": "text"}}}
                  ]
                },
                {
                  "width": 235, "height": 205,
                  "title": {"text": "mDP", "dx": -44, "offset": 0, "dy": -2, "fontSize": 21.5, "fontWeight": "bold"},
                  "transform": [{"filter": "datum.p === 'F2'"}],
                  "layer": [
                    {"transform": [{"filter": "datum.hl !== ''"}], "mark": {"type": "bar", "orient": "vertical", "width": 18},
                     "encoding": {"x": {"field": "rank", "type": "quantitative", "scale": {"domain": [0.17, 14.96], "nice": false, "zero": false}, "axis": null},
                       "y": {"datum": -2.6, "scale": {"domain": [0, 60], "nice": false}, "axis": {"values": [0, 10, 20, 30, 40, 50, 60], "title": "R²", "titleX": -34}},
                       "y2": {"datum": -19},
                       "color": {"field": "hl", "type": "nominal", "scale": {"domain": ["h1", "h2"], "range": ["#F5A3C8", "#EE9EEE"]}, "legend": null}}},
                    {"transform": [{"filter": "indexof(datum.label, ':') < 0"}], "mark": {"type": "bar", "orient": "vertical", "width": 9, "fill": "#0000F5", "stroke": "#00007a", "strokeWidth": 0.8},
                     "encoding": {"x": {"field": "rank", "type": "quantitative", "scale": {"domain": [0.17, 14.96], "nice": false, "zero": false}},
                       "y": {"field": "r2", "type": "quantitative", "scale": {"domain": [0, 60], "nice": false}, "axis": {"values": [0, 10, 20, 30, 40, 50, 60], "title": "R²", "titleX": -34}}}},
                    {"mark": {"type": "text", "angle": 270, "align": "right", "baseline": "middle", "dx": -12, "fontSize": 15.5, "color": "#000000"},
                     "encoding": {"x": {"field": "rank", "type": "quantitative", "scale": {"domain": [0.17, 14.96], "nice": false, "zero": false}},
                       "y": {"datum": 0, "scale": {"domain": [0, 60], "nice": false}, "axis": {"values": [0, 10, 20, 30, 40, 50, 60], "title": "R²", "titleX": -34}},
                       "text": {"field": "label"}}},
                    {"data": {"name": "glob"}, "transform": [{"filter": "datum.p === 'F2'"}], "mark": {"type": "text", "align": "right", "baseline": "alphabetic", "fontSize": 22, "color": "#000000"},
                     "encoding": {"x": {"datum": 14.2, "scale": {"domain": [0.17, 14.96], "nice": false, "zero": false}},
                       "y": {"datum": 51, "scale": {"domain": [0, 60], "nice": false}, "axis": {"values": [0, 10, 20, 30, 40, 50, 60], "title": "R²", "titleX": -34}},
                       "text": {"field": "text"}}}
                  ]
                }
              ]
            }
          ]
        }
      ]
    }
  ]
}
